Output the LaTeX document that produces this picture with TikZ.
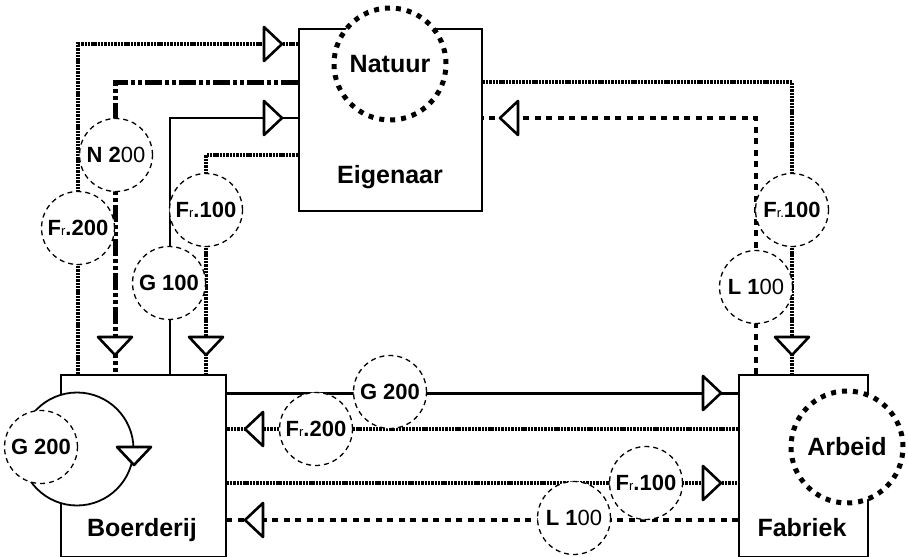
\documentclass[tikz,border=0pt]{standalone}
\usepackage{fontspec}
\setmainfont{Liberation Sans}
\usetikzlibrary{calc}
\newcommand{\rsm}{{\fontsize{13}{13}\selectfont\mdseries r}}
\tikzset{
  box/.style={draw, line width=1.6pt, fill=white, inner sep=0pt, anchor=north west},
  bigtxt/.style={font=\fontsize{25}{27}\selectfont\bfseries, inner sep=0pt},
  lbl/.style={circle, draw, line width=1.3pt, dash pattern=on 5pt off 4pt, fill=white,
    minimum size=73pt, inner sep=0pt, font=\fontsize{22}{24}\selectfont\bfseries},
  res/.style={circle, draw, line width=5pt, dash pattern=on 5pt off 6pt, fill=white,
    minimum size=112pt, inner sep=0pt, font=\fontsize{25}{27}\selectfont\bfseries},
  dd/.style={line width=4.5pt, dash pattern=on 2.4pt off 0.9pt},
  sq/.style={line width=4.5pt, dash pattern=on 6pt off 5.5pt},
  dashdot/.style={line width=5pt, dash pattern=on 17pt off 3pt on 4pt off 3pt on 4pt off 3pt},
  thinsolid/.style={line width=1.5pt},
  thicksolid/.style={line width=3pt},
  tri/.pic={\draw[line width=2.6pt, fill=white, line join=round] (0,0) -- (-18,-17) -- (-18,17) -- cycle;}
}
\begin{document}
\begin{tikzpicture}[x=1pt,y=-1pt]
\useasboundingbox (0,0) rectangle (908,557);
% boxes
\node[box, minimum width=183pt, minimum height=182pt] (eig) at (298,28) {};
\node[box, minimum width=165pt, minimum height=182pt] (boe) at (60,374) {};
\node[box, minimum width=129pt, minimum height=182pt] (fab) at (738,374) {};
% connectors Boerderij <-> Eigenaar
\draw[dd] ($(boe.north west)+(18,0)$) |- ($(eig.north west)+(0,16)$);
\draw[dashdot] ($(eig.north west)+(0,54)$) -| ($(boe.north west)+(55,0)$);
\draw[thinsolid] ($(boe.north west)+(110,0)$) |- ($(eig.north west)+(0,90)$);
\draw[dd] ($(eig.north west)+(0,127)$) -| ($(boe.north west)+(146,0)$);
% connectors Eigenaar <-> Fabriek
\draw[dd] ($(eig.north east)+(0,54)$) -| ($(fab.north west)+(54,0)$);
\draw[sq] ($(fab.north west)+(18,0)$) |- ($(eig.north east)+(0,90)$);
% connectors Boerderij <-> Fabriek
\draw[thicksolid] ($(boe.north east)+(0,19)$) -- ($(fab.north west)+(0,19)$);
\draw[dd] ($(fab.north west)+(0,55)$) -- ($(boe.north east)+(0,55)$);
\draw[dd] ($(boe.north east)+(0,109)$) -- ($(fab.north west)+(0,109)$);
\draw[sq] ($(fab.north west)+(0,146)$) -- ($(boe.north east)+(0,146)$);
% arrow triangles
\pic at (282,44) {tri};
\pic at (282,118) {tri};
\pic[rotate=-90] at (115,355) {tri};
\pic[rotate=-90] at (206,355) {tri};
\pic[rotate=-90] at (792,355) {tri};
\pic[rotate=180] at (500,118) {tri};
\pic at (721,393) {tri};
\pic[rotate=180] at (245,429) {tri};
\pic at (721,483) {tri};
\pic[rotate=180] at (245,520) {tri};
% self loop on Boerderij
\node[circle, draw, line width=1.8pt, fill=white, minimum size=113pt, inner sep=0pt] (loop) at (77,449) {};
\pic[rotate=-90] at (134,465) {tri};
% label circles
\node[lbl] (n200) at (116,155) {N 2{\mdseries 00}};
\node[lbl] (fr200a) at (78,228) {F\rsm.200};
\node[lbl] (fr100a) at (206,210) {F\rsm.100};
\node[lbl] (g100) at (169,283) {G 100};
\node[lbl] (fr100b) at (792,210) {F{\fontsize{13}{13}\selectfont\mdseries r.}100};
\node[lbl] (l100a) at (756,287) {L 1{\mdseries 00}};
\node[lbl] (g200a) at (390,392) {G 200};
\node[lbl] (fr200b) at (316,429) {F\rsm.200};
\node[lbl] (fr100c) at (646,483) {F\rsm.100};
\node[lbl] (l100b) at (574,518) {L 1{\mdseries 00}};
\node[lbl] (g200l) at (41,447) {G 200};
% resource circles
\node[res] (natuur) at (390,64) {Natuur};
\node[res] (arbeid) at (847,447) {Arbeid};
% box titles
\node[bigtxt] (eigt) at (390,177) {Eigenaar};
\node[bigtxt] (boet) at (142,530) {Boerderij};
\node[bigtxt] (fabt) at (802,528) {Fabriek};
\end{tikzpicture}
\end{document}
